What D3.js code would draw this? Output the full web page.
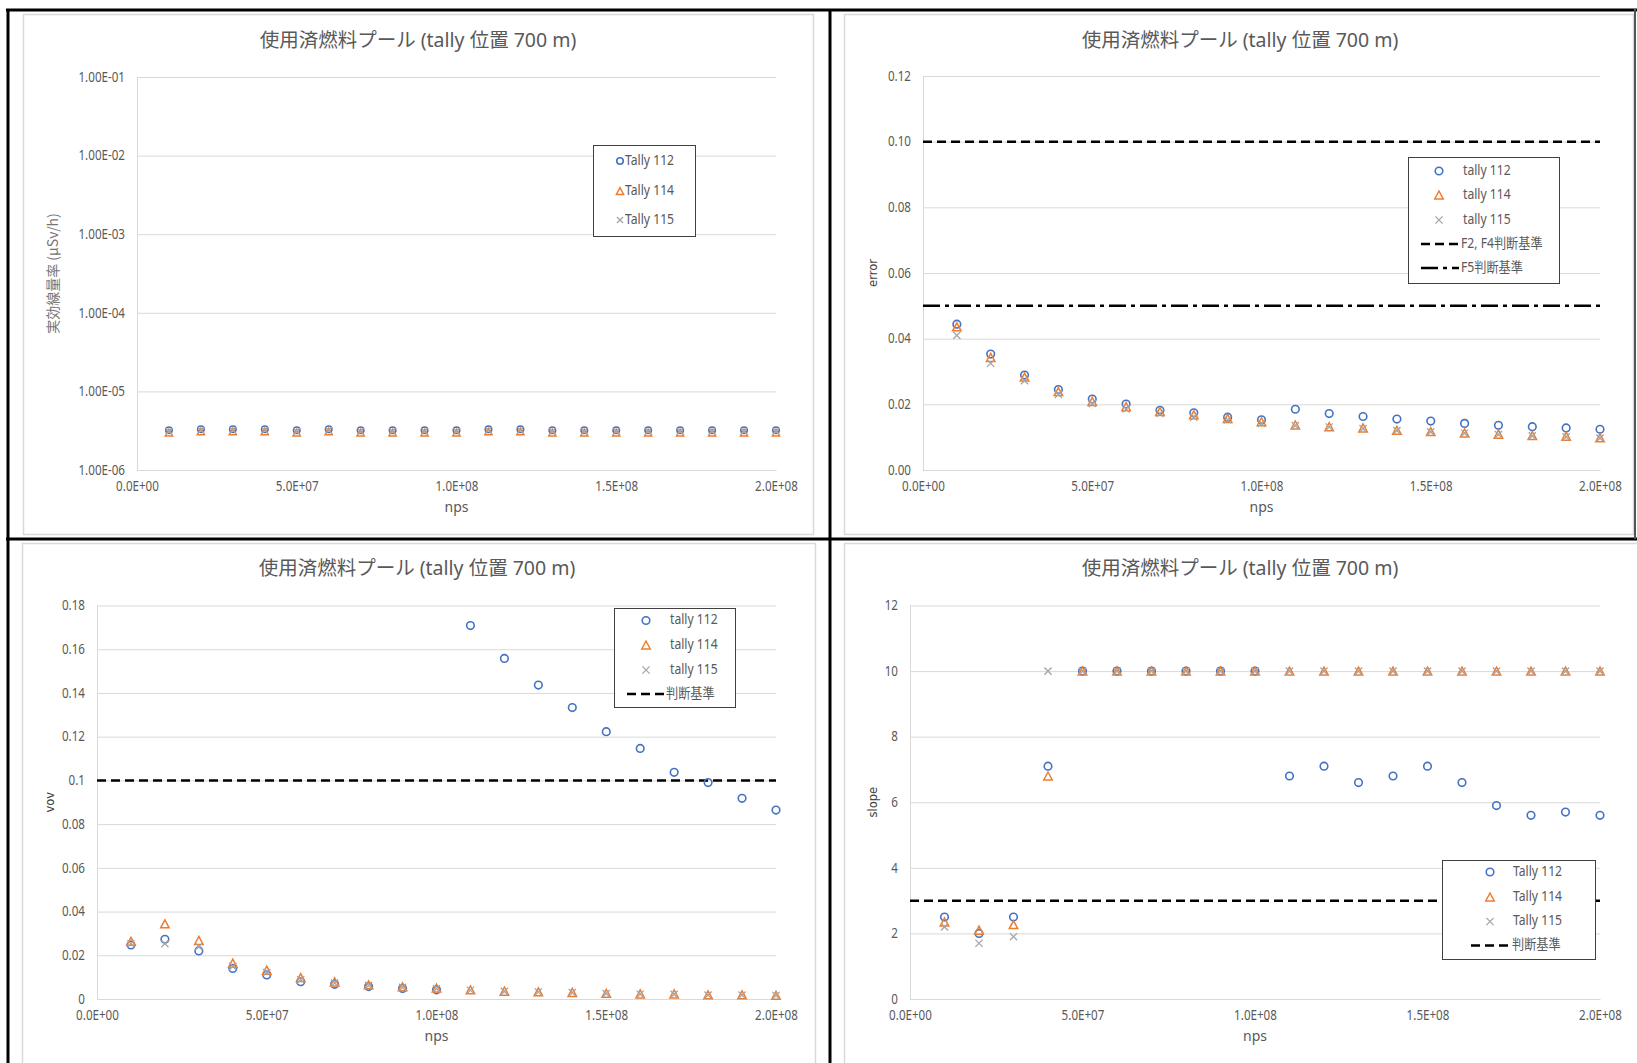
<!DOCTYPE html>
<html><head><meta charset="utf-8">
<script src="https://cdn.jsdelivr.net/npm/d3@7"></script>
<style>body{margin:0;background:#fff} svg{display:block}</style>
</head><body><svg id="c" width="1637" height="1063"></svg>
<script>
// ---------------- DATA ----------------
const nps = [10000000, 20000000, 30000000, 40000000, 50000000, 60000000, 70000000, 80000000, 90000000, 100000000,
             110000000, 120000000, 130000000, 140000000, 150000000, 160000000, 170000000, 180000000, 190000000, 200000000];
const titleText = "使用済燃料プール (tally 位置 700 m)";
const xTicks = [0, 50000000, 100000000, 150000000, 200000000];
const xTickLabels = ["0.0E+00", "5.0E+07", "1.0E+08", "1.5E+08", "2.0E+08"];

// panel 1 : dose rate (log)
const doseT112 = [3.2e-6, 3.3e-6, 3.3e-6, 3.3e-6, 3.2e-6, 3.3e-6, 3.2e-6, 3.2e-6, 3.2e-6, 3.2e-6,
                  3.3e-6, 3.3e-6, 3.2e-6, 3.2e-6, 3.2e-6, 3.2e-6, 3.2e-6, 3.2e-6, 3.2e-6, 3.2e-6];
const doseT114 = [3.0e-6, 3.1e-6, 3.1e-6, 3.1e-6, 3.0e-6, 3.1e-6, 3.0e-6, 3.0e-6, 3.0e-6, 3.0e-6,
                  3.1e-6, 3.1e-6, 3.0e-6, 3.0e-6, 3.0e-6, 3.0e-6, 3.0e-6, 3.0e-6, 3.0e-6, 3.0e-6];
const doseT115 = [3.1e-6, 3.2e-6, 3.2e-6, 3.2e-6, 3.1e-6, 3.2e-6, 3.1e-6, 3.1e-6, 3.1e-6, 3.1e-6,
                  3.2e-6, 3.2e-6, 3.1e-6, 3.1e-6, 3.1e-6, 3.1e-6, 3.1e-6, 3.1e-6, 3.1e-6, 3.1e-6];
const doseTicks = [1e-6, 1e-5, 1e-4, 1e-3, 1e-2, 1e-1];
const doseTickLabels = ["1.00E-06", "1.00E-05", "1.00E-04", "1.00E-03", "1.00E-02", "1.00E-01"];
const doseLegendLabels = ["Tally 112", "Tally 114", "Tally 115"];

// panel 2 : error
const errT112 = [0.0444, 0.0353, 0.0289, 0.0245, 0.0216, 0.0201, 0.0182, 0.0174, 0.0161, 0.0153,
                 0.0185, 0.0172, 0.0163, 0.0155, 0.0149, 0.0142, 0.0136, 0.0132, 0.0128, 0.0124];
const errT114 = [0.0436, 0.0343, 0.0283, 0.0239, 0.0209, 0.0193, 0.0178, 0.0168, 0.0157, 0.0147,
                 0.0137, 0.0132, 0.0128, 0.0121, 0.0117, 0.0113, 0.0109, 0.0105, 0.0103, 0.0098];
const errT115 = [0.0410, 0.0325, 0.0272, 0.0230, 0.0203, 0.0186, 0.0172, 0.0161, 0.0153, 0.0142,
                 0.0135, 0.0131, 0.0126, 0.0120, 0.0116, 0.0112, 0.0108, 0.0104, 0.0101, 0.0097];
const errTicks = [0, 0.02, 0.04, 0.06, 0.08, 0.10, 0.12];
const errTickLabels = ["0.00", "0.02", "0.04", "0.06", "0.08", "0.10", "0.12"];
const errCriteria = [0.10, 0.05];
const errLegendLabels = ["tally 112", "tally 114", "tally 115", "F2, F4判断基準", "F5判断基準"];

// panel 3 : vov
const vovT112 = [0.0247, 0.0273, 0.0220, 0.0140, 0.0110, 0.0079, 0.0067, 0.0057, 0.0048, 0.0042,
                 0.1708, 0.1558, 0.1436, 0.1333, 0.1223, 0.1146, 0.1037, 0.0990, 0.0918, 0.0864];
const vovT114 = [0.0264, 0.0344, 0.0268, 0.0164, 0.0132, 0.0098, 0.0078, 0.0065, 0.0056, 0.0050,
                 0.0042, 0.0036, 0.0033, 0.0030, 0.0026, 0.0023, 0.0023, 0.0019, 0.0019, 0.0017];
const vovT115 = [0.0253, 0.0253, 0.0240, 0.0149, 0.0121, 0.0088, 0.0073, 0.0062, 0.0053, 0.0047,
                 0.0040, 0.0035, 0.0032, 0.0029, 0.0025, 0.0022, 0.0021, 0.0018, 0.0018, 0.0016];
const vovTicks = [0, 0.02, 0.04, 0.06, 0.08, 0.1, 0.12, 0.14, 0.16, 0.18];
const vovTickLabels = ["0", "0.02", "0.04", "0.06", "0.08", "0.1", "0.12", "0.14", "0.16", "0.18"];
const vovCriteria = [0.1];
const vovLegendLabels = ["tally 112", "tally 114", "tally 115", "判断基準"];

// panel 4 : slope
const slopeT112 = [2.5, 2.0, 2.5, 7.1, 10, 10, 10, 10, 10, 10,
                   6.8, 7.1, 6.6, 6.8, 7.1, 6.6, 5.9, 5.6, 5.7, 5.6];
const slopeT114 = [2.35, 2.1, 2.27, 6.8, 10, 10, 10, 10, 10, 10,
                   10, 10, 10, 10, 10, 10, 10, 10, 10, 10];
const slopeT115 = [2.2, 1.7, 1.9, 10, 10, 10, 10, 10, 10, 10,
                   10, 10, 10, 10, 10, 10, 10, 10, 10, 10];
const slopeTicks = [0, 2, 4, 6, 8, 10, 12];
const slopeTickLabels = ["0", "2", "4", "6", "8", "10", "12"];
const slopeCriteria = [3];
const slopeLegendLabels = ["Tally 112", "Tally 114", "Tally 115", "判断基準"];

// ---------------- STYLE ----------------
const C_BLUE = "#4472C4", C_ORANGE = "#ED7D31", C_GRAY = "#A5A5A5";
const TICK_FONT = "'Noto Sans', sans-serif";
const CJK_FONT = "'Noto Sans', 'Noto Sans CJK JP', sans-serif";
const svg = d3.select("#c");
svg.append("rect").attr("width", 1637).attr("height", 1063).attr("fill", "#fff");

// horizontally condense a text element to mimic the narrower original face
function condense(sel, f) {
  sel.each(function () {
    const w = this.getComputedTextLength();
    d3.select(this).attr("textLength", w * f).attr("lengthAdjust", "spacingAndGlyphs");
  });
}

function drawMarker(g, type, x, y, s) {
  s = s || 1;
  if (type === "circle") {
    g.append("circle").attr("cx", x).attr("cy", y).attr("r", 3.8 * s)
      .attr("fill", "none").attr("stroke", C_BLUE).attr("stroke-width", 1.6);
  } else if (type === "triangle") {
    const h = 8 * s, w = 8.5 * s;
    g.append("path").attr("d", `M${x},${y - h / 2}L${x + w / 2},${y + h / 2}L${x - w / 2},${y + h / 2}Z`)
      .attr("fill", "none").attr("stroke", C_ORANGE).attr("stroke-width", 1.5);
  } else {
    const a = 3.6 * s;
    g.append("path").attr("d", `M${x - a},${y - a}L${x + a},${y + a}M${x - a},${y + a}L${x + a},${y - a}`)
      .attr("fill", "none").attr("stroke", C_GRAY).attr("stroke-width", 1.3);
  }
}

function panel(cfg) {
  const g = svg.append("g");
  const [bx0, by0, bx1, by1] = cfg.box;
  g.append("rect").attr("x", bx0 + 0.5).attr("y", by0 + 0.5).attr("width", bx1 - bx0).attr("height", by1 - by0)
    .attr("fill", "#fff").attr("stroke", "#d9d9d9").attr("stroke-width", 1.5);
  const [pl, pt, pr, pb] = cfg.plot;
  const x = d3.scaleLinear().domain([0, 200000000]).range([pl, pr]);
  const y = (cfg.log ? d3.scaleLog() : d3.scaleLinear()).domain(cfg.yDomain).range([pb, pt]);

  const yAxis = d3.axisLeft(y).tickValues(cfg.yTicks).tickSize(-(pr - pl)).tickFormat((d, i) => cfg.yTickLabels[i]).tickPadding(12);
  const ya = g.append("g").attr("transform", `translate(${pl},0)`).call(yAxis);
  ya.select(".domain").attr("stroke", "#d9d9d9").attr("d", `M0.5,${pt}V${pb}`);
  ya.selectAll(".tick line").attr("stroke", "#d9d9d9").attr("stroke-width", 1);
  ya.selectAll(".tick text").attr("fill", "#595959").style("font-family", TICK_FONT).style("font-size", "13.5px")
    .call(condense, 0.86);

  const xAxis = d3.axisBottom(x).tickValues(xTicks).tickSize(0).tickFormat((d, i) => xTickLabels[i]).tickPadding(11);
  const xa = g.append("g").attr("transform", `translate(0,${pb})`).call(xAxis);
  xa.select(".domain").attr("stroke", "#d9d9d9");
  xa.selectAll(".tick text").attr("fill", "#595959").style("font-family", TICK_FONT).style("font-size", "13.5px")
    .call(condense, 0.86);

  // title
  g.append("text").attr("x", cfg.titleX).attr("y", cfg.titleY).attr("text-anchor", "middle")
    .attr("dominant-baseline", "middle").attr("fill", "#595959")
    .style("font-family", CJK_FONT).style("font-size", "19.5px").text(titleText);
  // x label
  g.append("text").attr("x", (pl + pr) / 2).attr("y", pb + 38).attr("text-anchor", "middle")
    .attr("dominant-baseline", "middle").attr("fill", "#595959")
    .style("font-family", TICK_FONT).style("font-size", "14px").text("nps");
  // y label
  g.append("text").attr("transform", `translate(${cfg.yLabelX},${(pt + pb) / 2}) rotate(-90)`)
    .attr("text-anchor", "middle").attr("dominant-baseline", "middle")
    .attr("fill", cfg.yLabelColor).style("font-family", cfg.yLabelFont).style("font-size", cfg.yLabelSize)
    .text(cfg.yLabel);

  // reference lines
  (cfg.refs || []).forEach(r => {
    g.append("line").attr("x1", pl).attr("x2", pr).attr("y1", y(r.v)).attr("y2", y(r.v))
      .attr("stroke", "#000").attr("stroke-width", 2.5).attr("stroke-dasharray", r.dash);
  });

  // series
  const types = ["circle", "triangle", "x"];
  cfg.series.forEach((vals, si) => {
    const sg = g.append("g");
    vals.forEach((v, i) => drawMarker(sg, types[si], x(nps[i]), y(v), cfg.markerScale || 1));
  });

  // legend
  const L = cfg.legend;
  g.append("rect").attr("x", L.box[0] + 0.5).attr("y", L.box[1] + 0.5).attr("width", L.box[2] - L.box[0])
    .attr("height", L.box[3] - L.box[1]).attr("fill", "#fff").attr("stroke", "#404040").attr("stroke-width", 1);
  L.labels.forEach((lab, i) => {
    const ry = L.rows[i];
    let t;
    if (i < 3) {
      drawMarker(g, types[i], L.mx, ry, L.ms || 1);
      t = g.append("text").attr("x", L.tx).attr("y", ry);
    } else {
      const r = cfg.refs[i - 3];
      g.append("line").attr("x1", L.lx0).attr("x2", L.lx1).attr("y1", ry).attr("y2", ry)
        .attr("stroke", "#000").attr("stroke-width", 2.5).attr("stroke-dasharray", r.dash);
      t = g.append("text").attr("x", L.lx1 + 2).attr("y", ry);
    }
    t.attr("dominant-baseline", "middle").attr("fill", "#595959")
      .style("font-family", CJK_FONT).style("font-size", "13.5px").text(lab).call(condense, 0.9);
  });
}

// panel 1
panel({
  box: [23, 14, 813, 534], plot: [137, 77, 776, 470], titleX: 418, titleY: 42,
  log: true, yDomain: [1e-6, 1e-1], yTicks: doseTicks, yTickLabels: doseTickLabels,
  yLabel: "実効線量率 (µSv/h)", yLabelX: 54, yLabelColor: "#767676",
  yLabelFont: "'Noto Sans CJK JP', sans-serif", yLabelSize: "14px",
  series: [doseT112, doseT114, doseT115], markerScale: 0.85,
  legend: { box: [593, 145, 695, 236], rows: [161, 191, 220], mx: 620, tx: 625, ms: 0.85, labels: doseLegendLabels }
});
// panel 2
panel({
  box: [844, 14, 1633, 534], plot: [923, 76, 1600, 470], titleX: 1240, titleY: 42,
  yDomain: [0, 0.12], yTicks: errTicks, yTickLabels: errTickLabels,
  yLabel: "error", yLabelX: 873, yLabelColor: "#404040",
  yLabelFont: "'DejaVu Sans', sans-serif", yLabelSize: "11.5px",
  series: [errT112, errT114, errT115],
  refs: [{ v: errCriteria[0], dash: "9,5" }, { v: errCriteria[1], dash: "17,5,4,5" }],
  legend: { box: [1408, 157, 1559, 283], rows: [171, 195, 220, 244, 268], mx: 1439, tx: 1463, lx0: 1421, lx1: 1459, labels: errLegendLabels }
});
// panel 3
panel({
  box: [22, 543, 815, 1075], plot: [97, 605.5, 776, 999], titleX: 417, titleY: 570,
  yDomain: [0, 0.18], yTicks: vovTicks, yTickLabels: vovTickLabels,
  yLabel: "vov", yLabelX: 50, yLabelColor: "#404040",
  yLabelFont: "'DejaVu Sans', sans-serif", yLabelSize: "11.5px",
  series: [vovT112, vovT114, vovT115],
  refs: [{ v: vovCriteria[0], dash: "9,5" }],
  legend: { box: [614, 608, 735, 707], rows: [620.5, 645, 670, 694], mx: 646, tx: 670, lx0: 627, lx1: 664, labels: vovLegendLabels }
});
// panel 4
panel({
  box: [844, 543, 1650, 1075], plot: [910, 605.5, 1600, 999], titleX: 1240, titleY: 570,
  yDomain: [0, 12], yTicks: slopeTicks, yTickLabels: slopeTickLabels,
  yLabel: "slope", yLabelX: 873, yLabelColor: "#404040",
  yLabelFont: "'DejaVu Sans', sans-serif", yLabelSize: "11.5px",
  series: [slopeT112, slopeT114, slopeT115],
  refs: [{ v: slopeCriteria[0], dash: "9,5" }],
  legend: { box: [1442, 860, 1595, 959], rows: [872, 897, 921.5, 945.6], mx: 1490, tx: 1513, lx0: 1471, lx1: 1510, labels: slopeLegendLabels }
});

// black frame lines
const frame = svg.append("g").attr("stroke", "#000").attr("stroke-width", 3);
frame.append("line").attr("x1", 6).attr("x2", 1637).attr("y1", 10).attr("y2", 10);
frame.append("line").attr("x1", 8).attr("x2", 8).attr("y1", 9).attr("y2", 1063);
frame.append("line").attr("x1", 830).attr("x2", 830).attr("y1", 9).attr("y2", 1063);
frame.append("line").attr("x1", 6).attr("x2", 1637).attr("y1", 539).attr("y2", 539);
frame.append("line").attr("x1", 1635).attr("x2", 1635).attr("y1", 9).attr("y2", 539).attr("stroke-width", 2).attr("stroke", "#555");
</script></body></html>
